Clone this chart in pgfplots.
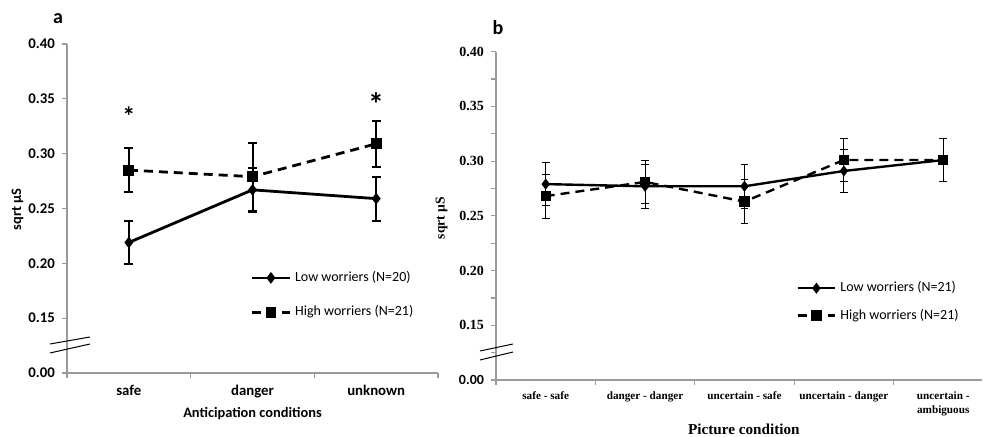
\documentclass[border=0pt]{standalone}
\usepackage{fontspec}
\setmainfont{Carlito}
\newfontfamily\tnr{Liberation Serif}
\newfontfamily\carl{Carlito}
\usepackage{pgfplots}
\usepackage{pgfplotstable}
\pgfplotsset{compat=1.18}
\definecolor{axisgray}{HTML}{9A9A9A}

% left panel: anticipation conditions
\pgfplotstableread{
x y e
1 0.219 0.020
2 0.267 0.020
3 0.259 0.020
}\lowA
\pgfplotstableread{
x y e
1 0.285 0.020
2 0.279 0.031
3 0.309 0.021
}\highA
% right panel: picture condition
\pgfplotstableread{
x y e
1 0.279 0.020
2 0.277 0.020
3 0.277 0.020
4 0.291 0.020
5 0.301 0.020
}\lowB
\pgfplotstableread{
x y e
1 0.268 0.020
2 0.281 0.020
3 0.263 0.020
4 0.301 0.020
5 0.301 0.020
}\highB

\pgfplotsset{
  panel/.style={
    scale only axis, anchor=south west,
    axis x line=bottom, axis y line=left,
    axis line style={axisgray,-,line width=0.6pt},
    ymin=0.10, ymax=0.40,
    ytick={0.10,0.15,0.20,0.25,0.30,0.35,0.40},
    yticklabels={0.00,0.15,0.20,0.25,0.30,0.35,0.40},
    tick align=outside,
    tick style={axisgray,line width=0.6pt},
    major tick length=2.5pt, minor tick length=2.5pt,
    xticklabels={},
    legend cell align=left,
    legend image code/.code={\draw[mark repeat=2,mark phase=2] plot coordinates {(0cm,0cm)(0.33cm,0cm)(0.66cm,0cm)};},
  },
  errA/.style={
    error bars/y dir=both, error bars/y explicit,
    error bars/error bar style={black,solid,line width=1pt},
    error bars/error mark options={black,solid,line width=1pt,mark size=2.2pt,rotate=90},
  },
  errB/.style={
    error bars/y dir=both, error bars/y explicit,
    error bars/error bar style={black,solid,line width=0.5pt},
    error bars/error mark options={black,solid,line width=0.5pt,mark size=1.9pt,rotate=90},
  },
  low/.style={black,solid,line width=1.4pt,mark=diamond*,mark size=1.8pt,mark options={solid}},
  high/.style={black,line width=1.4pt,dash pattern=on 4.5pt off 3pt,mark=square*,mark size=2pt,mark options={solid}},
}

\begin{document}
\begin{tikzpicture}
\useasboundingbox (0,0) rectangle (492pt,218.5pt);

\begin{axis}[panel,
  at={(33.5pt,32pt)}, width=185.5pt, height=164.5pt,
  xmin=0.5, xmax=3.5,
  xtick={0.5,1.5,2.5,3.5},
  extra x ticks={1,2,3},
  extra x tick labels={safe,danger,unknown},
  extra x tick style={tick style={draw=none}},
  ticklabel style={font=\bfseries\fontsize{7.4}{8}\selectfont},
  xlabel={Anticipation conditions},
  xlabel style={at={(axis description cs:0.5,-0.122)},anchor=center,font=\bfseries\fontsize{7.2}{8}\selectfont},
  ylabel={sqrt µS},
  ylabel style={at={(axis description cs:-0.133,0.498)},anchor=center,font=\bfseries\fontsize{7.2}{8}\selectfont},
  legend style={at={(axis description cs:0.478,0.237)},anchor=west,draw=none,fill=none,
    font=\fontsize{7}{8}\selectfont,row sep=6.5pt},
]
\addplot[low,errA] table[x=x,y=y,y error=e] {\lowA};
\addlegendentry{Low worriers (N=20)}
\addplot[high,errA] table[x=x,y=y,y error=e] {\highA};
\addlegendentry{High worriers (N=21)}
\node[font=\bfseries\fontsize{13}{13}\selectfont,yshift=-2pt] at (axis cs:1,0.3377) {*};
\node[font=\bfseries\fontsize{16}{16}\selectfont,yshift=-2.5pt] at (axis cs:3,0.350) {*};
\end{axis}

\begin{axis}[panel,
  at={(248pt,28.5pt)}, width=243pt, height=164.15pt,
  xmin=0.5, xmax=5.39,
  xtick={0.5,1.5,2.5,3.5,4.5,5.5},
  extra x ticks={1,2,3,4,5},
  extra x tick labels={safe - safe,danger - danger,uncertain - safe,uncertain - danger,{uncertain -\\ambiguous}},
  extra x tick style={tick style={draw=none},
    xticklabel style={font=\tnr\bfseries\fontsize{5.6}{6.6}\selectfont,align=center}},
  minor y tick num=1,
  yticklabels={{\carl 0.00},0.15,0.20,0.25,0.30,0.35,0.40},
  yticklabel style={font=\tnr\bfseries\fontsize{7}{8}\selectfont},
  xlabel={Picture condition},
  xlabel style={at={(axis description cs:0.51,-0.149)},anchor=center,font=\tnr\bfseries\fontsize{7.6}{8}\selectfont},
  ylabel={sqrt µS},
  ylabel style={at={(axis description cs:-0.112,0.493)},anchor=center,font=\tnr\bfseries\fontsize{6.8}{8}\selectfont},
  legend style={at={(axis description cs:0.605,0.238)},anchor=west,draw=none,fill=none,
    font=\fontsize{7}{8}\selectfont,row sep=3pt},
]
\addplot[low,line width=1.2pt,errB] table[x=x,y=y,y error=e] {\lowB};
\addlegendentry{Low worriers (N=21)}
\addplot[high,line width=1.2pt,errB] table[x=x,y=y,y error=e] {\highB};
\addlegendentry{High worriers (N=21)}
\end{axis}

% panel letters
\node[font=\bfseries\fontsize{10}{10}\selectfont] at (29pt,209pt) {a};
\node[font=\bfseries\fontsize{10}{10}\selectfont] at (249pt,204.5pt) {b};
% axis break marks
\draw[black,line width=0.5pt] (25pt,46.5pt) -- (45pt,50pt);
\draw[black,line width=0.5pt] (25pt,42pt) -- (45pt,46.5pt);
\draw[black,line width=0.5pt] (240pt,43pt) -- (256.5pt,46.5pt);
\draw[black,line width=0.5pt] (240pt,38.5pt) -- (256.5pt,42.5pt);
\end{tikzpicture}
\end{document}
